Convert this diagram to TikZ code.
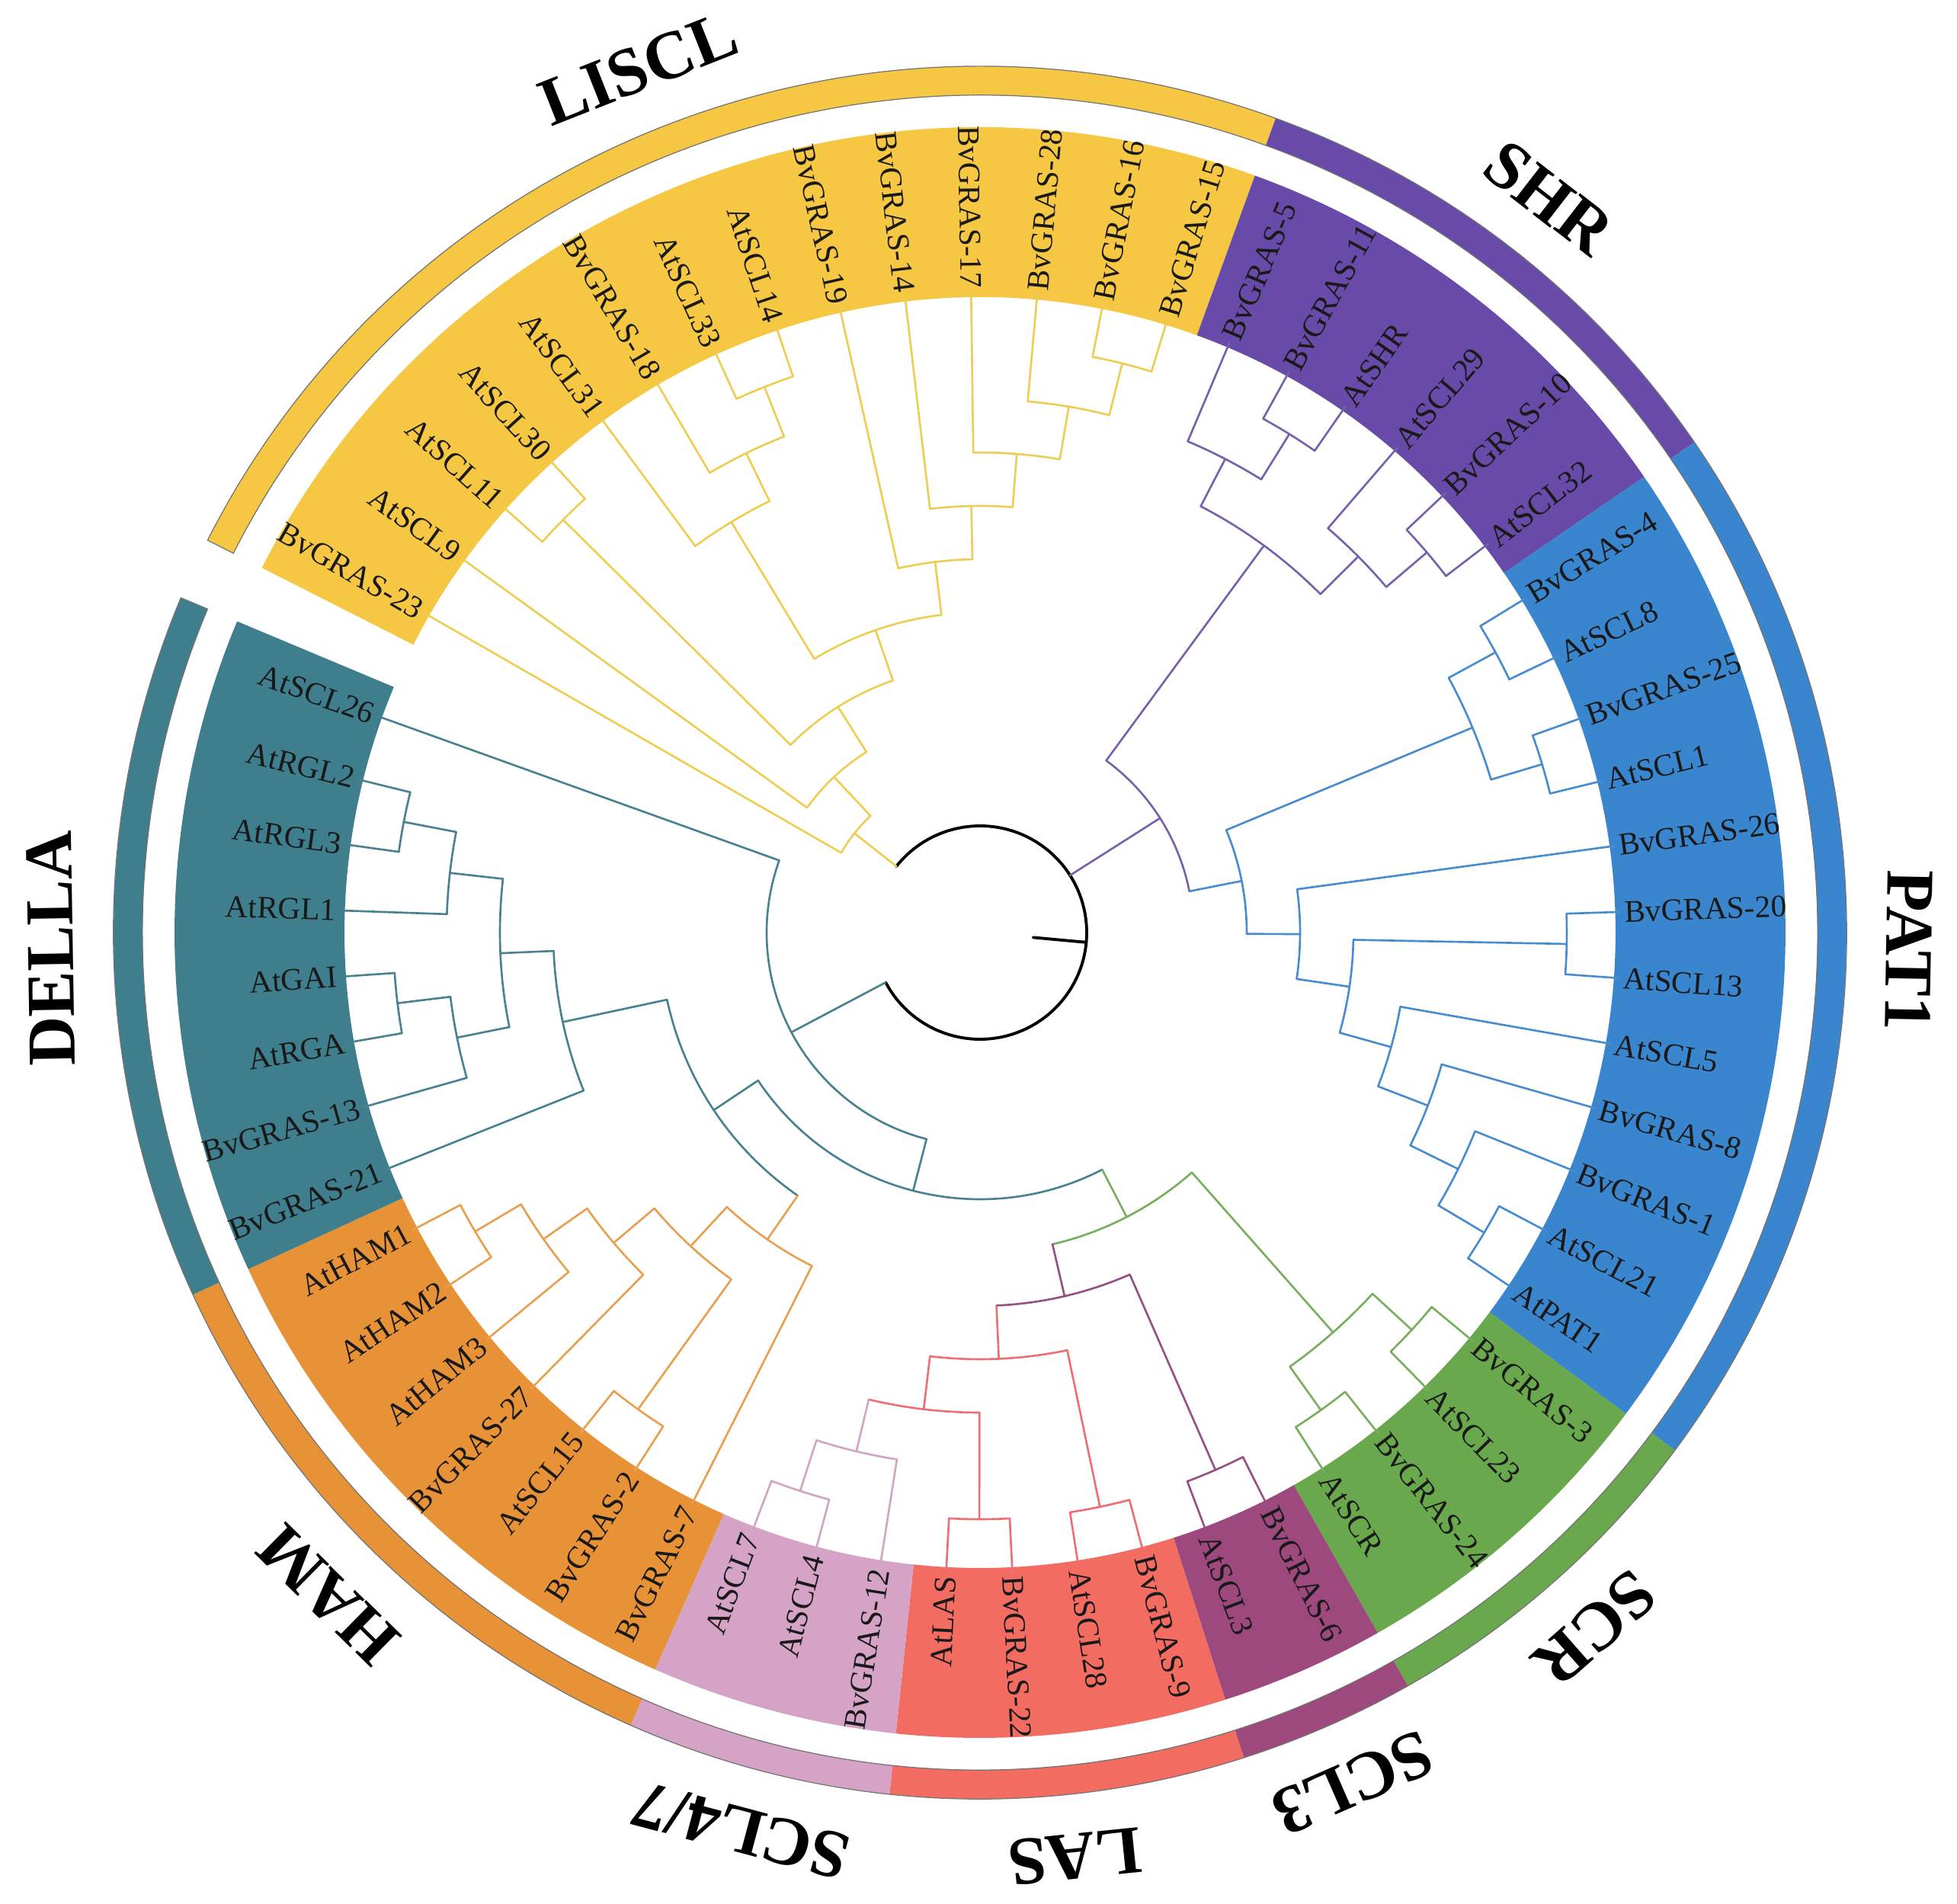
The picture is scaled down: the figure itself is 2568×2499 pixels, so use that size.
\documentclass[tikz,border=0pt]{standalone}
\usepackage{fontspec}
\setmainfont{Liberation Serif}
\usepackage{tikz}
\usetikzlibrary{calc}
% band colours
\definecolor{lisclF}{RGB}{245,199,67}
\definecolor{shrF}{RGB}{104,74,168}
\definecolor{patF}{RGB}{58,134,206}
\definecolor{scrF}{RGB}{106,168,78}
\definecolor{sclthreeF}{RGB}{157,73,125}
\definecolor{lasF}{RGB}{242,108,97}
\definecolor{sclfsF}{RGB}{212,163,197}
\definecolor{hamF}{RGB}{232,146,56}
\definecolor{dellaF}{RGB}{63,126,141}
% branch colours
\definecolor{lisclB}{RGB}{238,205,85}
\definecolor{shrB}{RGB}{118,98,172}
\definecolor{patB}{RGB}{72,140,208}
\definecolor{scrB}{RGB}{120,175,95}
\definecolor{sclthreeB}{RGB}{150,80,130}
\definecolor{lasB}{RGB}{238,110,115}
\definecolor{sclfsB}{RGB}{210,165,195}
\definecolor{hamB}{RGB}{230,160,80}
\definecolor{dellaB}{RGB}{72,130,145}
\newcommand{\leaffont}{\fontsize{11.7}{14}\selectfont}
\newcommand{\groupfont}{\fontsize{25.5}{30}\selectfont\bfseries}
% #1 name, #2 radius, #3 arc colour, #4 first child, #5 its colour, #6 second child, #7 its colour
\newcommand{\clade}[7]{%
  \draw[branch,#3] let \p1=(#4), \p2=(#6), \n1={atan2(\y1,\x1)},
    \n2={\n1-mod(\n1-atan2(\y2,\x2)+720,360)} in
    (\n1:#2) arc[start angle=\n1, end angle=\n2, radius=#2]
    ({(\n1+\n2)/2}:#2) coordinate (#1);
  \draw[branch,#5] let \p1=(#4), \n1={atan2(\y1,\x1)} in (#4) -- (\n1:#2);
  \draw[branch,#7] let \p1=(#6), \n1={atan2(\y1,\x1)} in (#6) -- (\n1:#2);
}

\begin{document}
\begin{tikzpicture}[x=0.01cm,y=0.01cm,
    branch/.style={line width=0.75pt,line cap=round,line join=round},
    leaflabel/.style={font=\leaffont,text=black!90,inner sep=1pt},
    grouplabel/.style={font=\groupfont,anchor=base,inner sep=0pt},
    barline/.style={draw=black!55,line width=0.35pt}]
    \useasboundingbox (-1286,-1275) rectangle (1282,1224);
    % Bands and outer ring
    \foreach \first/\last/\col/\name in {1/14/lisclF/LISCL, 15/20/shrF/SHR,
        21/32/patF/PAT1, 33/36/scrF/SCR, 37/38/sclthreeF/SCL3, 39/42/lasF/LAS,
        43/45/sclfsF/{SCL4/7}, 46/52/hamF/HAM, 53/60/dellaF/DELLA} {
      \pgfmathsetmacro\angA{150.1-5.93*(\first-1.5)}
      \pgfmathsetmacro\angB{150.1-5.93*(\last-0.5)}
      \pgfmathsetmacro\angM{(\angA+\angB)/2}
      \pgfmathsetmacro\rot{\angM-90}
      \fill[\col] (\angA:834) arc[start angle=\angA, end angle=\angB, radius=834]
        -- (\angB:1057) arc[start angle=\angB, end angle=\angA, radius=1057] -- cycle;
      \fill[\col] (\angA:1099) arc[start angle=\angA, end angle=\angB, radius=1099]
        -- (\angB:1137) arc[start angle=\angB, end angle=\angA, radius=1137] -- cycle;
      \node[grouplabel,rotate=\rot] (g\first) at (\angM:1190) {\name};
    }
    \draw[barline] (153.065:1099) arc[start angle=153.065, end angle=-202.735, radius=1099]
      -- (-202.735:1137) arc[start angle=-202.735, end angle=153.065, radius=1137] -- cycle;
    % Tips
    \foreach \name [count=\i] in {BvGRAS-23, AtSCL9, AtSCL11, AtSCL30, AtSCL31,
        BvGRAS-18, AtSCL33, AtSCL14, BvGRAS-19, BvGRAS-14, BvGRAS-17, BvGRAS-28,
        BvGRAS-16, BvGRAS-15, BvGRAS-5, BvGRAS-11, AtSHR, AtSCL29, BvGRAS-10,
        AtSCL32, BvGRAS-4, AtSCL8, BvGRAS-25, AtSCL1, BvGRAS-26, BvGRAS-20,
        AtSCL13, AtSCL5, BvGRAS-8, BvGRAS-1, AtSCL21, AtPAT1, BvGRAS-3, AtSCL23,
        BvGRAS-24, AtSCR, BvGRAS-6, AtSCL3, BvGRAS-9, AtSCL28, BvGRAS-22, AtLAS,
        BvGRAS-12, AtSCL4, AtSCL7, BvGRAS-7, BvGRAS-2, AtSCL15, BvGRAS-27, AtHAM3,
        AtHAM2, AtHAM1, BvGRAS-21, BvGRAS-13, AtRGA, AtGAI, AtRGL1, AtRGL3, AtRGL2,
        AtSCL26} {
      \pgfmathsetmacro\ang{150.1-5.93*(\i-1)}
      \pgfmathtruncatemacro\flip{(\ang>90)||(\ang<-90)}
      \coordinate (l\i) at (\ang:840);
      \ifnum\flip=1
        \pgfmathsetmacro\rot{\ang+180}
        \node[leaflabel,anchor=east,rotate=\rot] (lab\i) at (\ang:842) {\name};
      \else
        \node[leaflabel,anchor=west,rotate=\ang] (lab\i) at (\ang:842) {\name};
      \fi
    }
    % LISCL
    \clade{ls1}{770}{lisclB}{l3}{lisclB}{l4}{lisclB}
    \clade{ls2}{770}{lisclB}{l7}{lisclB}{l8}{lisclB}
    \clade{ls3}{700}{lisclB}{l6}{lisclB}{ls2}{lisclB}
    \clade{ls4}{630}{lisclB}{l5}{lisclB}{ls3}{lisclB}
    \clade{ls5}{770}{lisclB}{l13}{lisclB}{l14}{lisclB}
    \clade{ls6}{700}{lisclB}{l12}{lisclB}{ls5}{lisclB}
    \clade{ls7}{630}{lisclB}{l11}{lisclB}{ls6}{lisclB}
    \clade{ls8}{560}{lisclB}{l10}{lisclB}{ls7}{lisclB}
    \clade{ls9}{490}{lisclB}{l9}{lisclB}{ls8}{lisclB}
    \clade{ls10}{420}{lisclB}{ls4}{lisclB}{ls9}{lisclB}
    \clade{ls11}{350}{lisclB}{ls1}{lisclB}{ls10}{lisclB}
    \clade{ls12}{280}{lisclB}{l2}{lisclB}{ls11}{lisclB}
    \clade{ls13}{210}{lisclB}{l1}{lisclB}{ls12}{lisclB}
    % SHR
    \clade{sh1}{770}{shrB}{l16}{shrB}{l17}{shrB}
    \clade{sh2}{700}{shrB}{l15}{shrB}{sh1}{shrB}
    \clade{sh3}{770}{shrB}{l19}{shrB}{l20}{shrB}
    \clade{sh4}{700}{shrB}{l18}{shrB}{sh3}{shrB}
    \clade{sh5}{630}{shrB}{sh2}{shrB}{sh4}{shrB}
    % PAT1
    \clade{pt1}{770}{patB}{l21}{patB}{l22}{patB}
    \clade{pt2}{770}{patB}{l23}{patB}{l24}{patB}
    \clade{pt3}{700}{patB}{pt1}{patB}{pt2}{patB}
    \clade{pt4}{770}{patB}{l31}{patB}{l32}{patB}
    \clade{pt5}{700}{patB}{l30}{patB}{pt4}{patB}
    \clade{pt6}{630}{patB}{l29}{patB}{pt5}{patB}
    \clade{pt7}{560}{patB}{l28}{patB}{pt6}{patB}
    \clade{pt8}{770}{patB}{l26}{patB}{l27}{patB}
    \clade{pt9}{490}{patB}{pt8}{patB}{pt7}{patB}
    \clade{pt10}{420}{patB}{l25}{patB}{pt9}{patB}
    \clade{pt11}{350}{patB}{pt3}{patB}{pt10}{patB}
    \clade{sp}{280}{shrB}{sh5}{shrB}{pt11}{patB}
    % SCR, SCL3, LAS, SCL4/7
    \clade{sc1}{770}{scrB}{l33}{scrB}{l34}{scrB}
    \clade{sc2}{770}{scrB}{l35}{scrB}{l36}{scrB}
    \clade{sc3}{700}{scrB}{sc1}{scrB}{sc2}{scrB}
    \clade{st1}{770}{sclthreeB}{l37}{sclthreeB}{l38}{sclthreeB}
    \clade{la1}{770}{lasB}{l39}{lasB}{l40}{lasB}
    \clade{la2}{770}{lasB}{l41}{lasB}{l42}{lasB}
    \clade{sf1}{770}{sclfsB}{l44}{sclfsB}{l45}{sclfsB}
    \clade{sf2}{700}{sclfsB}{l43}{sclfsB}{sf1}{sclfsB}
    \clade{la3}{630}{lasB}{la2}{lasB}{sf2}{sclfsB}
    \clade{la4}{560}{lasB}{la1}{lasB}{la3}{lasB}
    \clade{st2}{490}{sclthreeB}{st1}{sclthreeB}{la4}{lasB}
    \clade{sc4}{420}{scrB}{sc3}{scrB}{st2}{sclthreeB}
    % HAM
    \clade{hm1}{770}{hamB}{l51}{hamB}{l52}{hamB}
    \clade{hm2}{700}{hamB}{l50}{hamB}{hm1}{hamB}
    \clade{hm3}{630}{hamB}{l49}{hamB}{hm2}{hamB}
    \clade{hm4}{770}{hamB}{l47}{hamB}{l48}{hamB}
    \clade{hm5}{560}{hamB}{hm4}{hamB}{hm3}{hamB}
    \clade{hm6}{490}{hamB}{l46}{hamB}{hm5}{hamB}
    % DELLA
    \clade{dl1}{770}{dellaB}{l55}{dellaB}{l56}{dellaB}
    \clade{dl2}{700}{dellaB}{l54}{dellaB}{dl1}{dellaB}
    \clade{dl3}{770}{dellaB}{l58}{dellaB}{l59}{dellaB}
    \clade{dl4}{700}{dellaB}{l57}{dellaB}{dl3}{dellaB}
    \clade{dl5}{630}{dellaB}{dl2}{dellaB}{dl4}{dellaB}
    \clade{dl6}{560}{dellaB}{l53}{dellaB}{dl5}{dellaB}
    \clade{gr1}{420}{dellaB}{hm6}{hamB}{dl6}{dellaB}
    \clade{gr2}{350}{dellaB}{sc4}{scrB}{gr1}{dellaB}
    \clade{gr3}{280}{dellaB}{gr2}{dellaB}{l60}{dellaB}
    % Root
    \clade{root}{140}{black,line width=1.1pt}{ls13}{lisclB}{gr3}{dellaB}
    \draw[branch,shrB] let \p1=(sp), \n1={atan2(\y1,\x1)} in (sp) -- (\n1:140);
    \draw[branch,black,line width=1.1pt] let \p1=(root), \n1={atan2(\y1,\x1)} in (root) -- (\n1:70);
\end{tikzpicture}
\end{document}
